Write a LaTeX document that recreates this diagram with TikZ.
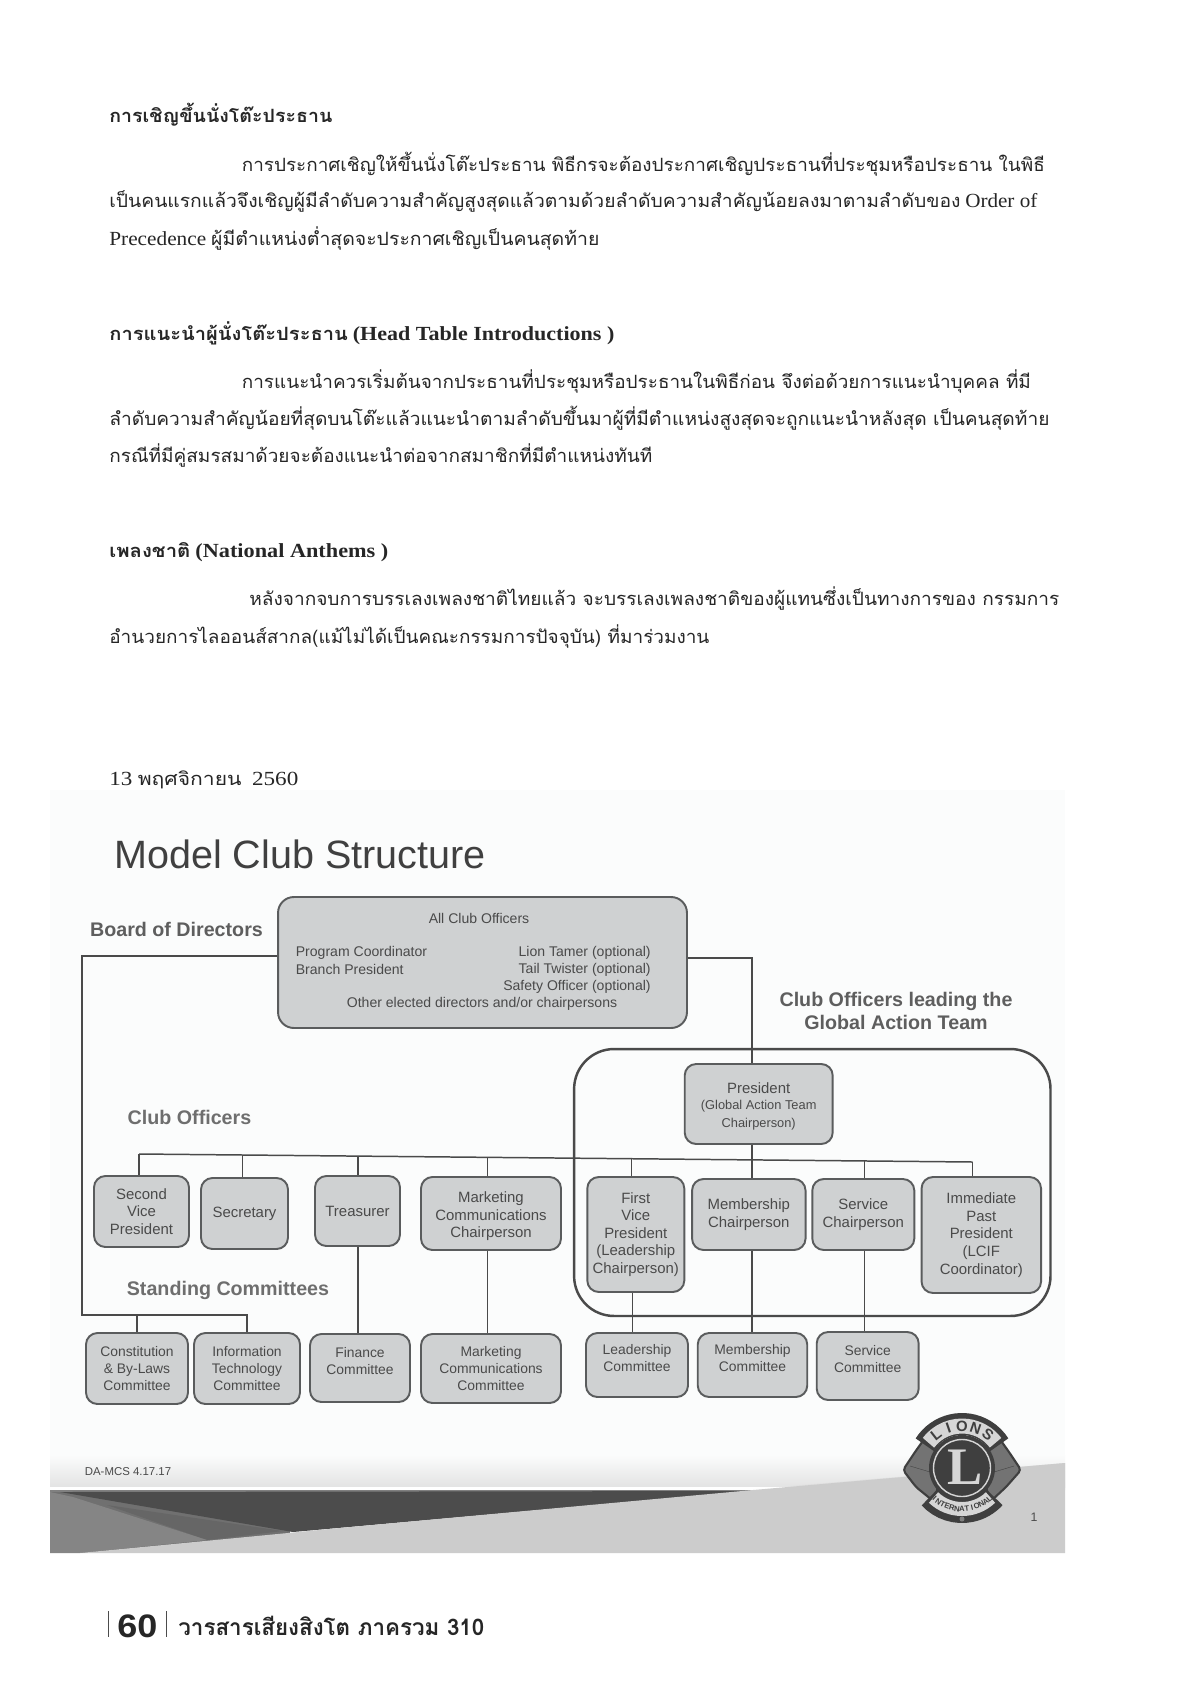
\documentclass[tikz,border=0pt]{standalone}
\usepackage{fontspec}
\usepackage{graphicx}
\usetikzlibrary{calc}
\setmainfont{Liberation Serif}
\setsansfont{Liberation Sans}
\newfontfamily\thaifont[Script=Thai]{Loma}
\newlength{\pxunit}
\setlength{\pxunit}{0.02cm}
\newcommand{\fitline}[2]{\resizebox{#1\pxunit}{\height}{#2}}
\newcommand{\thtext}[1]{{\thaifont #1}}
\newcommand{\latintext}[1]{{\fontsize{11.4}{12}\selectfont #1}}
\definecolor{boxface}{HTML}{CFD1D2}
\definecolor{boxtop}{HTML}{DEE0E1}
\definecolor{boxshade}{HTML}{999B9C}
\definecolor{boxedge}{HTML}{5A5C5D}
\definecolor{inktext}{HTML}{4A4A4A}
\definecolor{inklabel}{HTML}{5E5E5E}
\definecolor{inksoft}{HTML}{6E6E6E}
\definecolor{slidebg}{HTML}{FBFCFC}
\definecolor{logodark}{HTML}{3F3F3F}
\definecolor{logolight}{HTML}{D6D6D6}
\pgfdeclareverticalshading{bevelshade}{100bp}{color(0bp)=(boxedge); color(5bp)=(boxshade); color(11bp)=(boxface); color(84bp)=(boxface); color(92bp)=(boxtop); color(97bp)=(boxshade); color(100bp)=(boxedge)}

\begin{document}
\begin{tikzpicture}[
  x=0.02cm, y=-0.02cm,
  font=\sffamily,
  officebox/.style={draw=boxedge, line width=1.1pt, rounded corners=6.5pt, shading=bevelshade,
    align=center, inner sep=0pt, text=inktext, font=\sffamily\fontsize{8.5}{10}\selectfont},
  commbox/.style={officebox, font=\sffamily\fontsize{7.9}{9.6}\selectfont},
  boxline/.style={inner sep=0pt, text=inktext, font=\sffamily\fontsize{8}{9.6}\selectfont},
  boxtext/.style={inner sep=0pt, align=center, text=inktext, font=\sffamily\fontsize{8.5}{10}\selectfont},
  wire/.style={draw=inktext, line width=0.85pt},
  heading/.style={inner sep=0pt, align=center, text=inklabel, font=\sffamily\bfseries\fontsize{11.2}{13.6}\selectfont},
  bodyline/.style={anchor=base west, inner sep=0pt, text=black!85, font=\rmfamily\fontsize{10.4}{12}\selectfont},
  headline/.style={bodyline, font=\rmfamily\bfseries\fontsize{10.4}{12}\selectfont},
  lionhead/.style={fill=black!55, draw=logodark, line width=1.2pt, rounded corners=2pt},
  logoletter/.style={inner sep=0pt, text=logodark, font=\rmfamily\bfseries}
]
  \useasboundingbox (0,0) rectangle (1200,1696);
  \fill[white] (0,0) rectangle (1200,1696);

  % page text
  \node[headline] (headChair) at (109,123)
    {\fitline{223}{\thtext{การเชิญขึ้นนั่งโต๊ะประธาน}}};
  \node[bodyline] (chairA) at (241.5,171.5)
    {\fitline{803}{\thtext{การประกาศเชิญให้ขึ้นนั่งโต๊ะประธาน พิธีกรจะต้องประกาศเชิญประธานที่ประชุมหรือประธาน ในพิธี}}};
  \node[bodyline] (chairB) at (109,208)
    {\fitline{928}{\thtext{เป็นคนแรกแล้วจึงเชิญผู้มีลำดับความสำคัญสูงสุดแล้วตามด้วยลำดับความสำคัญน้อยลงมาตามลำดับของ} \latintext{Order of}}};
  \node[bodyline] (chairC) at (109,246)
    {\fitline{490}{\latintext{Precedence} \thtext{ผู้มีตำแหน่งต่ำสุดจะประกาศเชิญเป็นคนสุดท้าย}}};
  \node[headline] (headIntro) at (109,340.5)
    {\fitline{505}{\thtext{การแนะนำผู้นั่งโต๊ะประธาน} \latintext{(Head Table Introductions )}}};
  \node[bodyline] (introA) at (241.5,388)
    {\fitline{789}{\thtext{การแนะนำควรเริ่มต้นจากประธานที่ประชุมหรือประธานในพิธีก่อน จึงต่อด้วยการแนะนำบุคคล ที่มี}}};
  \node[bodyline] (introB) at (109,425)
    {\fitline{940}{\thtext{ลำดับความสำคัญน้อยที่สุดบนโต๊ะแล้วแนะนำตามลำดับขึ้นมาผู้ที่มีตำแหน่งสูงสุดจะถูกแนะนำหลังสุด เป็นคนสุดท้าย}}};
  \node[bodyline] (introC) at (109,462)
    {\fitline{543}{\thtext{กรณีที่มีคู่สมรสมาด้วยจะต้องแนะนำต่อจากสมาชิกที่มีตำแหน่งทันที}}};
  \node[headline] (headAnthem) at (109,557)
    {\fitline{279}{\thtext{เพลงชาติ} \latintext{(National Anthems )}}};
  \node[bodyline] (anthemA) at (249,605)
    {\fitline{810}{\thtext{หลังจากจบการบรรเลงเพลงชาติไทยแล้ว จะบรรเลงเพลงชาติของผู้แทนซึ่งเป็นทางการของ กรรมการ}}};
  \node[bodyline] (anthemB) at (109,643)
    {\fitline{600}{\thtext{อำนวยการไลออนส์สากล(แม้ไม่ได้เป็นคณะกรรมการปัจจุบัน) ที่มาร่วมงาน}}};
  \node[bodyline] (dateline) at (109,785)
    {\fitline{189}{\latintext{13} \thtext{พฤศจิกายน}\ \ \latintext{2560}}};

  % slide background and bottom band
  \fill[slidebg] (50,790) rectangle (1065,1553);
  \shade[top color=slidebg, bottom color=black!11] (50,1455) rectangle (1065,1487);
  \fill[white] (50,1487) rectangle (790,1490);
  \fill[black!12] (790,1486) -- (1065,1463) -- (1065,1490) -- cycle;
  \fill[black!50] (50,1490) rectangle (753,1492);
  \fill[black!56] (50,1492) rectangle (290,1553);
  \fill[black!70] (60,1492) -- (753,1491) -- (293,1532) -- cycle;
  \fill[black!60] (107,1505) -- (283,1531) -- (207,1540) -- cycle;
  \fill[black!48] (50,1492) -- (73,1497) -- (207,1540) -- (80,1553) -- (50,1553) -- cycle;
  \fill[black!20] (80,1553) -- (340,1528) -- (753,1490) -- (1065,1463) -- (1065,1553) -- cycle;

  % chart
  \node[draw=inktext, line width=1.4pt, rounded corners=0.8cm,
    minimum width=9.53cm, minimum height=5.34cm] (gatFrame) at (812.3,1182.5) {};
  \node[inner sep=0pt, text=black!75, font=\sffamily\fontsize{22.5}{26}\selectfont] (slideTitle)
    at (300,854) {Model Club Structure};
  \node[heading] (boardLabel) at (176.5,929) {Board of Directors};
  \node[heading, text=inksoft] (officersLabel) at (189.5,1117) {Club Officers};
  \node[heading, text=inksoft] (standingLabel) at (228,1290) {Standing Committees};
  \node[heading] (gatLabel) at (896,1011) {Club Officers leading the\\Global Action Team};

  \node[officebox, rounded corners=9pt, minimum width=8.18cm, minimum height=2.62cm] (allOfficers) at (482.5,962.5) {};
  \node[boxline] (allA) at (479,918) {All Club Officers};
  \node[boxline, anchor=west] (allB) at (295.5,953) {Program Coordinator};
  \node[boxline, anchor=west] (allC) at (295.5,969.5) {Branch President};
  \node[boxline, anchor=east] (allD) at (651,953) {Lion Tamer (optional)};
  \node[boxline, anchor=east] (allE) at (651,969.5) {Tail Twister (optional)};
  \node[boxline, anchor=east] (allF) at (651,986.5) {Safety Officer (optional)};
  \node[boxline] (allG) at (482,1003.5) {Other elected directors and/or chairpersons};

  \node[officebox, minimum width=2.96cm, minimum height=1.6cm] (president) at (758.7,1104) {};
  \node[boxtext] (presidentText) at (758.7,1106.5)
    {President\\[-1pt]\fontsize{7.3}{9}\selectfont(Global Action Team\\\fontsize{7.3}{9}\selectfont Chairperson)};

  \node[officebox, minimum width=1.9cm, minimum height=1.42cm] (secondVice) at (141.5,1211.5) {Second\\Vice\\President};
  \node[officebox, minimum width=1.74cm, minimum height=1.42cm] (secretary) at (244.5,1213.5) {Secretary};
  \node[officebox, minimum width=1.7cm, minimum height=1.4cm] (treasurer) at (357.5,1211) {Treasurer};
  \node[officebox, minimum width=2.8cm, minimum height=1.46cm] (marketChair) at (491,1213.5) {};
  \node[boxtext] (marketChairText) at (491,1216.5) {Marketing\\Communications\\Chairperson};
  \node[officebox, minimum width=1.94cm, minimum height=2.3cm] (firstVice) at (635.8,1234.5) {First\\Vice\\President\\(Leadership\\Chairperson)};
  \node[officebox, minimum width=2.27cm, minimum height=1.42cm] (memberChair) at (748.8,1214.5) {Membership\\Chairperson};
  \node[officebox, minimum width=2.04cm, minimum height=1.42cm] (serviceChair) at (863.3,1214.5) {Service\\Chairperson};
  \node[officebox, minimum width=2.39cm, minimum height=2.32cm] (pastPres) at (981.3,1235) {Immediate\\Past\\President\\(LCIF\\Coordinator)};

  \node[commbox, minimum width=2.04cm, minimum height=1.42cm] (constComm) at (137,1368.5) {Constitution\\\& By-Laws\\Committee};
  \node[commbox, minimum width=2.12cm, minimum height=1.42cm] (techComm) at (247,1368.5) {Information\\Technology\\Committee};
  \node[commbox, minimum width=2cm, minimum height=1.36cm] (financeComm) at (360,1368) {Finance\\Committee\\[-2pt]~};
  \node[commbox, minimum width=2.8cm, minimum height=1.38cm] (marketComm) at (491,1368.5) {Marketing\\Communications\\Committee};
  \node[commbox, minimum width=2.04cm, minimum height=1.28cm] (leaderComm) at (637,1365) {Leadership\\Committee\\[-2pt]~};
  \node[commbox, minimum width=2.19cm, minimum height=1.28cm] (memberComm) at (752.5,1365) {Membership\\Committee\\[-2pt]~};
  \node[commbox, minimum width=2.04cm, minimum height=1.36cm] (serviceComm) at (867.7,1366) {Service\\Committee\\[-2pt]~};

  % connectors
  \coordinate (presAxis) at (752,1049);
  \coordinate (boardCorner) at (82,1315);
  \coordinate (busLeft) at (139,1154);
  \coordinate (busRight) at (972.7,1162);
  \draw[wire] (busLeft) -- (busRight);
  \foreach \name/\xpos in {secondVice/139,secretary/242.5,treasurer/358,marketChair/487.5,
      firstVice/631.3,serviceChair/864.7,pastPres/972.7}
    \draw[wire] (\xpos,{1154+(\xpos-139)*0.0096}) -- (\xpos,0 |- \name.north);
  \draw[wire] (allOfficers.east |- 0,958) -| (presAxis |- president.north);
  \draw[wire] (presAxis |- president.south) -- (presAxis |- memberChair.north);
  \draw[wire] (presAxis |- memberChair.south) -- (presAxis |- memberComm.north);
  \draw[wire] (allOfficers.west |- 0,956) -| (boardCorner) -| (techComm.north);
  \draw[wire] (constComm.north |- boardCorner) -- (constComm.north);
  \draw[wire] (632.7,0 |- firstVice.south) -- (632.7,0 |- leaderComm.north);
  \draw[wire] (864.7,0 |- serviceChair.south) -- (864.7,0 |- serviceComm.north);
  \draw[wire] (358,0 |- treasurer.south) -- (358,0 |- financeComm.north);
  \draw[wire] (487.5,0 |- marketChair.south) -- (487.5,0 |- marketComm.north);

  \node[inner sep=0pt, text=inktext, font=\sffamily\fontsize{6.5}{8}\selectfont] (slideCode) at (128,1472) {DA-MCS 4.17.17};
  \node[inner sep=0pt, text=inktext, font=\sffamily\fontsize{7}{8}\selectfont] (slideNum) at (1034,1517) {1};

  % logo
  \coordinate (logoMid) at (962,1468);
  \filldraw[lionhead] (925,1438) -- (915,1452) -- (903,1470) -- (916,1487) -- (932,1500) -- (938,1490) -- (932,1462) -- (938,1445) -- cycle;
  \filldraw[lionhead] (999,1438) -- (1009,1452) -- (1021,1470) -- (1006,1487) -- (992,1500) -- (986,1490) -- (992,1462) -- (986,1445) -- cycle;
  \draw[logodark, line width=0.2pt] (910,1466) -- (930,1472) (1014,1466) -- (994,1472);
  \draw[logodark, line width=0.44cm] ($(logoMid)+({44*cos(148)},{-44*sin(148)})$) arc[start angle=-148, end angle=-32, radius=44];
  \draw[logodark, line width=0.48cm] ($(logoMid)+({43*cos(222)},{-43*sin(222)})$) arc[start angle=-222, end angle=-318, radius=43];
  \draw[logolight, line width=0.3cm] ($(logoMid)+({42*cos(143)},{-42*sin(143)})$) arc[start angle=-143, end angle=-37, radius=42];
  \draw[logolight, line width=0.28cm] ($(logoMid)+({41*cos(226)},{-41*sin(226)})$) arc[start angle=-226, end angle=-314, radius=41];
  \fill[logodark] (logoMid) circle[radius=33];
  \draw[logolight, line width=0.8pt] (logoMid) circle[radius=28.5];
  \node[inner sep=0pt, text=logolight, font=\rmfamily\bfseries\fontsize{30}{30}\selectfont] (logoL) at (965,1467) {L};
  \foreach \letter [count=\i] in {L,I,O,N,S}
    \node[logoletter, font=\sffamily\bfseries\fontsize{8.5}{9}\selectfont, rotate={128-(\i-1)*19-90}] (logoTop\i)
      at ({962+42*cos(128-(\i-1)*19)},{1468-42*sin(128-(\i-1)*19)}) {\letter};
  \foreach \letter [count=\i] in {I,N,T,E,R,N,A,T,I,O,N,A,L}
    \node[logoletter, font=\sffamily\bfseries\fontsize{4.4}{5}\selectfont, rotate={228+(\i-1)*7+90}] (logoBot\i)
      at ({962+41*cos(228+(\i-1)*7)},{1468-41*sin(228+(\i-1)*7)}) {\letter};
  \fill[black!50] (962,1519) circle[radius=2.5];

  % page footer
  \node[inner sep=0pt, anchor=base west, text=black!85, font=\sffamily\bfseries\fontsize{18.5}{20}\selectfont] (folio) at (117,1637) {\fitline{40}{60}};
  \node[inner sep=0pt, anchor=base west, text=black!85, font=\bfseries\fontsize{13}{15}\selectfont] (journal) at (178,1635)
    {\fitline{306}{\thtext{วารสารเสียงสิงโต ภาครวม 310}}};
  \draw[black!70, line width=0.5pt] (folio.west |- 0,1611) ++(-9,0) -- ++(0,26);
  \draw[black!70, line width=0.5pt] (folio.east |- 0,1611) ++(8.5,0) -- ++(0,26);
\end{tikzpicture}
\end{document}
